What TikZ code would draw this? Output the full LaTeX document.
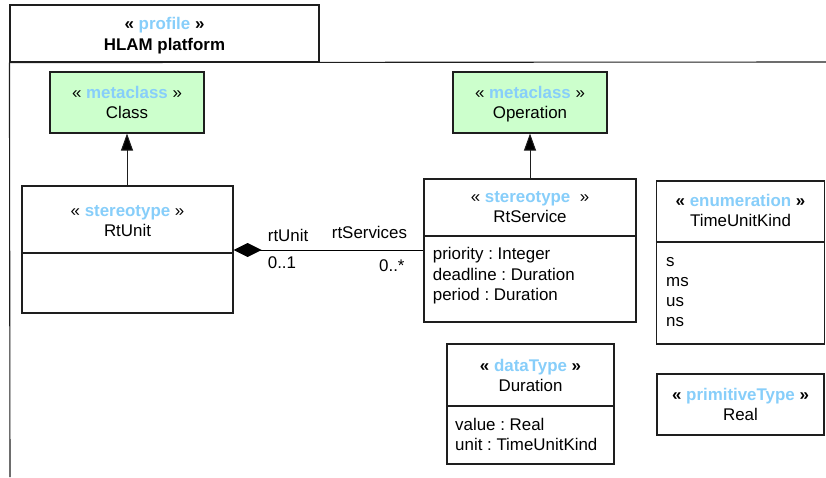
\documentclass[tikz,border=0pt]{standalone}
\usepackage{fontspec}
\setmainfont{Liberation Sans}
\usetikzlibrary{arrows.meta}
\definecolor{stblue}{RGB}{135,206,250}
\definecolor{metagreen}{RGB}{204,255,204}
\definecolor{edge}{RGB}{30,30,30}
\newcommand{\stn}[1]{\textcolor{stblue}{\textbf{#1}}}
\frenchspacing
\begin{document}
\begin{tikzpicture}[x=1pt,y=-1pt,
  umlbox/.style={draw=edge, line width=1.1pt, fill=white, inner sep=0pt},
  metabox/.style={umlbox, fill=metagreen},
  txt/.style={inner sep=0pt, font=\fontsize{16.9}{20}\selectfont},
  ctxt/.style={txt, anchor=base},
  ltxt/.style={txt, anchor=base west},
  divider/.style={draw=edge, line width=1.1pt},
  frameline/.style={draw=edge, line width=1.1pt},
  gen/.style={draw=edge, line width=1pt, -{Triangle[length=17pt,width=12pt,fill=black]}},
  comp/.style={draw=black, line width=1pt, {Diamond[length=28pt,width=14pt,fill=black]}-}
]
\useasboundingbox (0,0) rectangle (826,477);
% frame
\node[draw=edge, line width=1.1pt, minimum width=309pt, minimum height=57pt, inner sep=0pt] (tab) at (164.5,33.5) {};
\coordinate (frametopright) at (826,62);
\coordinate (framebottomleft) at (10,477);
\draw[frameline] (tab.south west) -- (frametopright);
\draw[frameline] (tab.south west) -- (framebottomleft);
\node[ctxt] (tabst) at (164.5,29.5) {\textbf{«} \stn{profile} \textbf{»}};
\node[ctxt] (tabname) at (164.5,50) {\textbf{HLAM platform}};

% metaclasses
\node[metabox, minimum width=154pt, minimum height=61pt] (class) at (127,102.5) {};
\node[ctxt] (classst) at (127,98) {« \stn{metaclass} »};
\node[ctxt] (classname) at (127,118) {Class};

\node[metabox, minimum width=154pt, minimum height=61pt] (operation) at (530,102.5) {};
\node[ctxt] (operationst) at (530,98) {« \stn{metaclass} »};
\node[ctxt] (operationname) at (530,118) {Operation};

% RtUnit
\node[umlbox, minimum width=211pt, minimum height=127pt] (rtunit) at (127.5,249.5) {};
\draw[divider] (rtunit.west |- 0,253) -- (rtunit.east |- 0,253);
\node[ctxt] (rtunitst) at (127.5,216) {« \stn{stereotype} »};
\node[ctxt] (rtunitname) at (127.5,236) {RtUnit};

% RtService
\node[umlbox, minimum width=212pt, minimum height=143pt] (rtservice) at (530,250.5) {};
\draw[divider] (rtservice.west |- 0,236) -- (rtservice.east |- 0,236);
\node[ctxt] (rtservicest) at (530,202.5) {« \stn{stereotype}\ \ »};
\node[ctxt] (rtservicename) at (530,222.7) {RtService};
\node[ltxt] (attr1) at (432.7,259.5) {priority : Integer};
\node[ltxt] (attr2) at (432.7,280) {deadline : Duration};
\node[ltxt] (attr3) at (432.7,300.2) {period : Duration};

% TimeUnitKind
\node[umlbox, minimum width=168pt, minimum height=163pt] (tuk) at (740.5,262.5) {};
\draw[divider] (tuk.west |- 0,242) -- (tuk.east |- 0,242);
\node[ctxt] (tukst) at (740.5,206.7) {\textbf{«} \stn{enumeration} \textbf{»}};
\node[ctxt] (tukname) at (740.5,226.7) {TimeUnitKind};
\node[ltxt] (lit1) at (666,266.3) {s};
\node[ltxt] (lit2) at (666,286.5) {ms};
\node[ltxt] (lit3) at (666,306.7) {us};
\node[ltxt] (lit4) at (666,326.9) {ns};

% Duration
\node[umlbox, minimum width=167pt, minimum height=120pt] (duration) at (530.5,404) {};
\draw[divider] (duration.west |- 0,406) -- (duration.east |- 0,406);
\node[ctxt] (durationst) at (530.5,371) {\textbf{«} \stn{dataType} \textbf{»}};
\node[ctxt] (durationname) at (530.5,391) {Duration};
\node[ltxt] (dattr1) at (455,430.3) {value : Real};
\node[ltxt] (dattr2) at (455,450.7) {unit : TimeUnitKind};

% Real
\node[umlbox, minimum width=167pt, minimum height=61pt] (real) at (740.5,404.5) {};
\node[ctxt] (realst) at (740.5,400) {\textbf{«} \stn{primitiveType} \textbf{»}};
\node[ctxt] (realname) at (740.5,420) {Real};

% connectors
\draw[gen] (rtunit.north -| class.south) -- (class.south);
\draw[gen] (rtservice.north) -- (operation.south);
\draw[comp] (rtunit.east |- 0,250) -- (rtservice.west |- 0,250);
\node[ltxt] (lrtunit) at (267.7,241.7) {rtUnit};
\node[ltxt] (lmult1) at (267.7,268.3) {0..1};
\node[ltxt] (lrtserv) at (331.7,238.3) {rtServices};
\node[ltxt] (lmult2) at (379,271.7) {0..*};
\end{tikzpicture}
\end{document}
